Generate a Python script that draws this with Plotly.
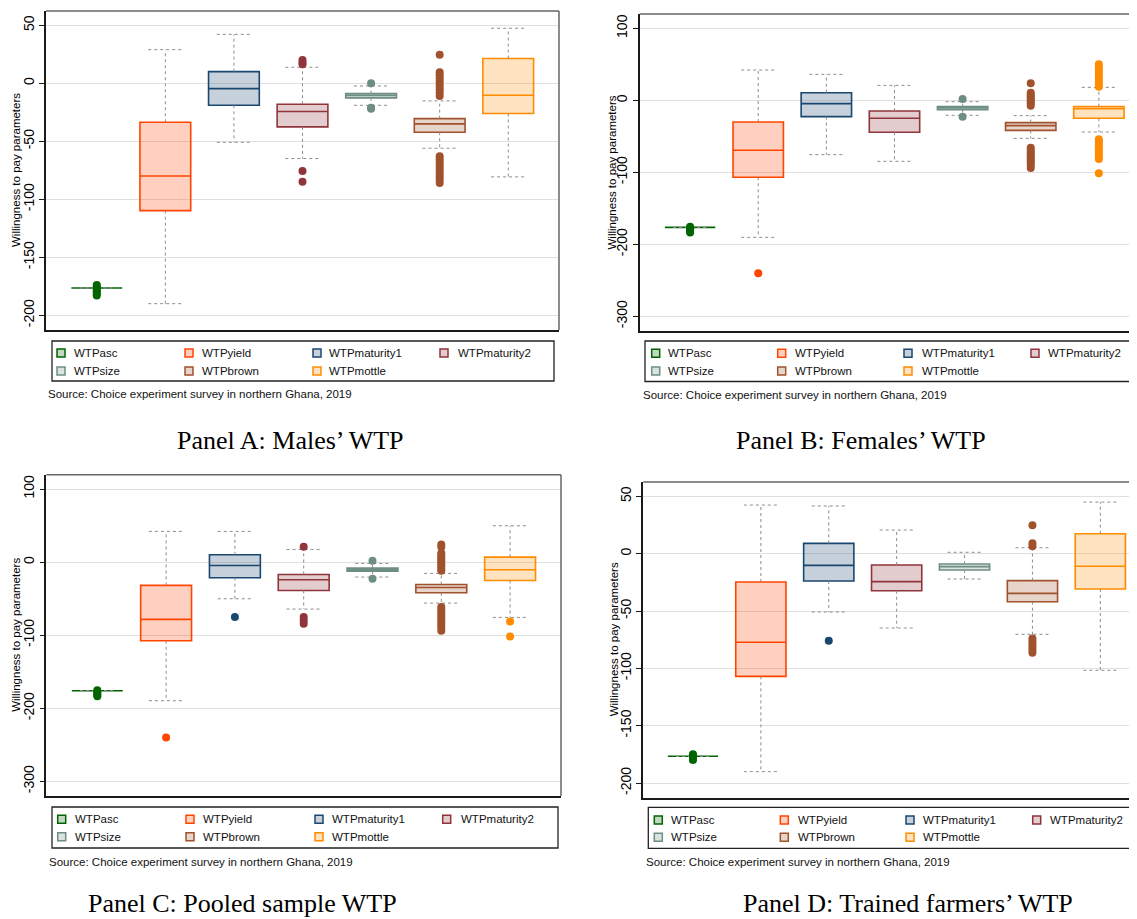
import plotly.graph_objects as go

W, H = 1137, 919
OFF = 8  # page body margin in the browser
FW, FH = W - OFF, H - OFF

# ---------------- data ----------------
categories = ["WTPasc", "WTPyield", "WTPmaturity1", "WTPmaturity2", "WTPsize", "WTPbrown", "WTPmottle"]

# Panel A: Males
males_q1 = [-176.5, -109.8, -19.0, -37.6, -12.6, -42.2, -26.1]
males_median = [-176.5, -79.9, -4.6, -24.4, -10.6, -35.0, -10.3]
males_q3 = [-176.5, -33.6, 10.0, -18.1, -8.9, -30.5, 21.3]
males_lower = [-176.5, -190.0, -50.9, -64.9, -19.0, -56.0, -80.7]
males_upper = [-176.5, 29.0, 42.2, 13.8, -2.3, -15.2, 47.4]
males_outliers = [
    [-174, -175.5, -177, -178.5, -180, -181.5, -183],
    [],
    [],
    [20, 18, 16.5, -75.6, -84.8],
    [0, -21, -22],
    [24.5, 9.5, 7, 4.5, 2, -0.5, -3, -5.5, -8, -11,
     -63, -65.5, -68, -70.5, -73, -75.5, -78, -80.5, -83, -86],
    [],
]

# Panel B: Females
females_q1 = [-176.4, -106.9, -22.7, -44.4, -13.0, -41.7, -25.0]
females_median = [-176.4, -69.4, -4.6, -25.0, -10.6, -35.2, -11.6]
females_q3 = [-176.4, -30.1, 10.6, -14.8, -8.8, -31.0, -8.8]
females_lower = [-176.4, -190.3, -75.5, -84.7, -20.8, -52.8, -44.0]
females_upper = [-176.4, 42.1, 36.1, 20.8, -1.9, -21.3, 18.0]
females_outliers = [
    [-175.5, -177.5, -179.5, -181.5, -183.5],
    [-240.3],
    [],
    [],
    [1.9, -22.7],
    [23.6, 10.5, 8, 5.5, 3, 0.5, -2, -4.5, -7.5,
     -66, -69, -72, -75, -78, -81, -84, -87, -90, -94],
    [50, 46, 42, 38, 34, 30, 26, 22, 19,
     -54, -57.5, -61, -64.5, -68, -71.5, -75, -78.5, -81.5, -101.4],
]

# Panel C: Pooled sample
pooled_q1 = [-176.0, -107.6, -21.4, -38.8, -12.3, -42.0, -25.1]
pooled_median = [-176.0, -78.4, -4.6, -24.2, -10.0, -34.7, -10.5]
pooled_q3 = [-176.0, -31.9, 10.0, -16.9, -8.2, -30.6, 6.8]
pooled_lower = [-176.0, -189.7, -50.2, -64.3, -20.5, -56.1, -75.7]
pooled_upper = [-176.0, 42.0, 42.0, 17.3, -1.8, -15.5, 49.7]
pooled_outliers = [
    [-175.5, -177.5, -179.5, -181.5, -183.5],
    [-239.9],
    [-75.3],
    [21, -75, -80, -84.5],
    [1.8, -22.8],
    [24, 20.5, 12, 9, 6, 3, 0, -3, -6, -9, -12,
     -61.5, -65, -68.5, -72, -75.5, -79, -82.5, -86, -89.5, -94],
    [-81.2, -101.7],
]

# Panel D: Trained farmers
trained_q1 = [-176.7, -107.0, -23.8, -32.3, -14.2, -41.9, -30.8]
trained_median = [-176.7, -77.3, -10.2, -24.4, -11.3, -34.6, -11.0]
trained_q3 = [-176.7, -24.7, 9.0, -9.9, -9.0, -23.5, 17.4]
trained_lower = [-176.7, -190.1, -50.9, -64.8, -22.1, -70.3, -101.7]
trained_upper = [-176.7, 42.4, 41.6, 20.6, 1.2, 5.2, 45.0]
trained_outliers = [
    [-175, -176.5, -178, -180],
    [],
    [-75.9],
    [],
    [],
    [24.7, 9, 6.5, -74, -76.5, -79, -81.5, -84, -86.5],
    [],
]

ticks_50 = [-200, -150, -100, -50, 0, 50]
ticks_50_text = ["-200", "-150", "-100", "-50", "0", "50"]
ticks_100 = [-300, -200, -100, 0, 100]
ticks_100_text = ["-300", "-200", "-100", "0", "100"]

titles = ["Panel A: Males’ WTP", "Panel B: Females’ WTP",
          "Panel C: Pooled sample WTP", "Panel D: Trained farmers’ WTP"]
ytitle = "Willingness to pay parameters"
source_note = "Source: Choice experiment survey in northern Ghana, 2019"

# ---------------- style ----------------
colors = ["#006400", "#FF4500", "#1A476F", "#90353B", "#6E8E84", "#A0522D", "#FF8C00"]


def rgba(hexc, a):
    h = hexc.lstrip("#")
    r, g, b = int(h[0:2], 16), int(h[2:4], 16), int(h[4:6], 16)
    return f"rgba({r},{g},{b},{a})"


def px(x):
    return (x - OFF) / FW


def py(y):
    return 1 - (y - OFF) / FH


SANS = "Liberation Sans, Arial, Helvetica, sans-serif"
SERIF = "Liberation Serif, Times New Roman, serif"

panels = [
    dict(stats=(males_q1, males_median, males_q3, males_lower, males_upper, males_outliers),
         box=(46, 11, 559, 330), xr=[-0.74, 6.74], yr=[-212.7, 62.3],
         tv=ticks_50, tt=ticks_50_text, right=True,
         leg=(52, 341, 554, 381), sw=[61, 189, 317, 444], tx=[74, 202, 329, 458], rows=[353, 371],
         src=(48, 394), ttl=(290, 440), yt=15.5),
    dict(stats=(females_q1, females_median, females_q3, females_lower, females_upper, females_outliers),
         box=(639.7, 14, 1137, 331), xr=[-0.74, 6.56], yr=[-320.4, 119.9],
         tv=ticks_100, tt=ticks_100_text, right=False,
         leg=(645, 341, 1145, 381.5), sw=[655.7, 781.7, 908, 1035], tx=[668, 795, 921.7, 1048], rows=[353.3, 371],
         src=(642.7, 395), ttl=(861, 440), yt=611),
    dict(stats=(pooled_q1, pooled_median, pooled_q3, pooled_lower, pooled_upper, pooled_outliers),
         box=(46.4, 474.7, 561, 796), xr=[-0.74, 6.74], yr=[-320.1, 119.6],
         tv=ticks_100, tt=ticks_100_text, right=True,
         leg=(52, 807, 558, 848), sw=[61.7, 190, 319, 446.7], tx=[75, 203, 332, 460.7], rows=[819.3, 836.7],
         src=(49.3, 861.7), ttl=(242.5, 903.5), yt=16.5),
    dict(stats=(trained_q1, trained_median, trained_q3, trained_lower, trained_upper, trained_outliers),
         box=(643.2, 482, 1137, 797.7), xr=[-0.733, 6.54], yr=[-212.8, 62.5],
         tv=ticks_50, tt=ticks_50_text, right=False,
         leg=(648.3, 807.3, 1145, 848.3), sw=[658.3, 784.3, 910, 1036.7], tx=[671, 797.7, 923.3, 1050], rows=[820, 837.3],
         src=(646, 861.7), ttl=(907.5, 903.5), yt=613.5),
]

fig = go.Figure()
shapes = []
annotations = []
layout_axes = {}

BOXW = 0.74
CAP = 0.25

for k, p in enumerate(panels):
    sfx = "" if k == 0 else str(k + 1)
    xa, ya = "x" + sfx, "y" + sfx
    q1, med, q3, lo, up, outs = p["stats"]
    for i, cat in enumerate(categories):
        c = colors[i]
        fig.add_trace(go.Box(
            x=[i], q1=[q1[i]], median=[med[i]], q3=[q3[i]],
            lowerfence=[q1[i]], upperfence=[q3[i]],
            width=BOXW, whiskerwidth=0, boxpoints=False,
            line=dict(color=c, width=1.6), fillcolor=rgba(c, 0.25),
            name=cat, showlegend=False, hoverinfo="skip",
            xaxis=xa, yaxis=ya))
    for i, cat in enumerate(categories):
        fig.add_trace(go.Scatter(
            x=[i, i, None, i - CAP, i + CAP, None, i, i, None, i - CAP, i + CAP],
            y=[q3[i], up[i], None, up[i], up[i], None, q1[i], lo[i], None, lo[i], lo[i]],
            mode="lines", line=dict(color="#8c8c8c", width=1, dash="3px,3px"),
            showlegend=False, hoverinfo="skip", xaxis=xa, yaxis=ya))
    for i, cat in enumerate(categories):
        if outs[i]:
            fig.add_trace(go.Scatter(
                x=[i] * len(outs[i]), y=outs[i], mode="markers",
                marker=dict(color=colors[i], size=8, line=dict(width=0)),
                showlegend=False, hoverinfo="skip", xaxis=xa, yaxis=ya))

    l, t, r, b = p["box"]
    xkey = "xaxis" + sfx
    ykey = "yaxis" + sfx
    layout_axes[xkey] = dict(domain=[px(l), min(px(r), 1)], anchor=ya, range=p["xr"],
                             showticklabels=False, ticks="", showgrid=False, zeroline=False,
                             showline=True, linecolor="#1a1a1a", linewidth=1.5, fixedrange=True)
    layout_axes[ykey] = dict(domain=[py(b), py(t)], anchor=xa, range=p["yr"],
                             tickvals=p["tv"], ticktext=p["tt"], tickangle=-90,
                             ticks="outside", ticklen=5, tickwidth=1.2, tickcolor="#1a1a1a",
                             ticklabelstandoff=0,
                             tickfont=dict(family=SANS, size=14, color="#000"),
                             showgrid=True, gridcolor="#e0e0e0", gridwidth=1.2, zeroline=False,
                             showline=True, linecolor="#1a1a1a", linewidth=1.5, fixedrange=True)
    # top and right frame
    shapes.append(dict(type="line", xref=xa + " domain", yref=ya + " domain",
                       x0=0, x1=1, y0=1, y1=1, line=dict(color="#666", width=1.5)))
    if p["right"]:
        shapes.append(dict(type="line", xref=xa + " domain", yref=ya + " domain",
                           x0=1, x1=1, y0=0, y1=1, line=dict(color="#666", width=1.5)))
    # y title
    annotations.append(dict(text=ytitle, textangle=-90, x=px(p["yt"]), y=py((t + b) / 2),
                            xref="paper", yref="paper", showarrow=False, xanchor="center", yanchor="middle",
                            font=dict(family=SANS, size=11.5, color="#000")))
    # legend box
    L0, T0, L1, B0 = p["leg"]
    shapes.append(dict(type="rect", xref="paper", yref="paper", x0=px(L0), x1=px(L1), y0=py(B0), y1=py(T0),
                       line=dict(color="#222", width=1.3), fillcolor="rgba(0,0,0,0)"))
    for i, cat in enumerate(categories):
        col, row = i % 4, i // 4
        cx, cy = p["sw"][col], p["rows"][row]
        shapes.append(dict(type="rect", xref="paper", yref="paper",
                           x0=px(cx - 4), x1=px(cx + 4), y0=py(cy + 4), y1=py(cy - 4),
                           line=dict(color=colors[i], width=1.5), fillcolor=rgba(colors[i], 0.25)))
        annotations.append(dict(text=cat, x=px(p["tx"][col] - 2), y=py(cy), xref="paper", yref="paper",
                                showarrow=False, xanchor="left", yanchor="middle",
                                font=dict(family=SANS, size=11.5, color="#111")))
    # source
    sx, sy = p["src"]
    annotations.append(dict(text=source_note, x=px(sx - 2), y=py(sy), xref="paper", yref="paper",
                            showarrow=False, xanchor="left", yanchor="middle",
                            font=dict(family=SANS, size=11.5, color="#111")))
    # panel title
    tx_, ty_ = p["ttl"]
    annotations.append(dict(text=titles[k], x=px(tx_), y=py(ty_), xref="paper", yref="paper",
                            showarrow=False, xanchor="center", yanchor="middle",
                            font=dict(family=SERIF, size=26, color="#000")))

fig.update_layout(
    width=FW, height=FH, margin=dict(l=0, r=0, t=0, b=0),
    paper_bgcolor="white", plot_bgcolor="white",
    boxmode="overlay", showlegend=False,
    shapes=shapes, annotations=annotations,
    **layout_axes,
)

fig.write_html("out.html")
